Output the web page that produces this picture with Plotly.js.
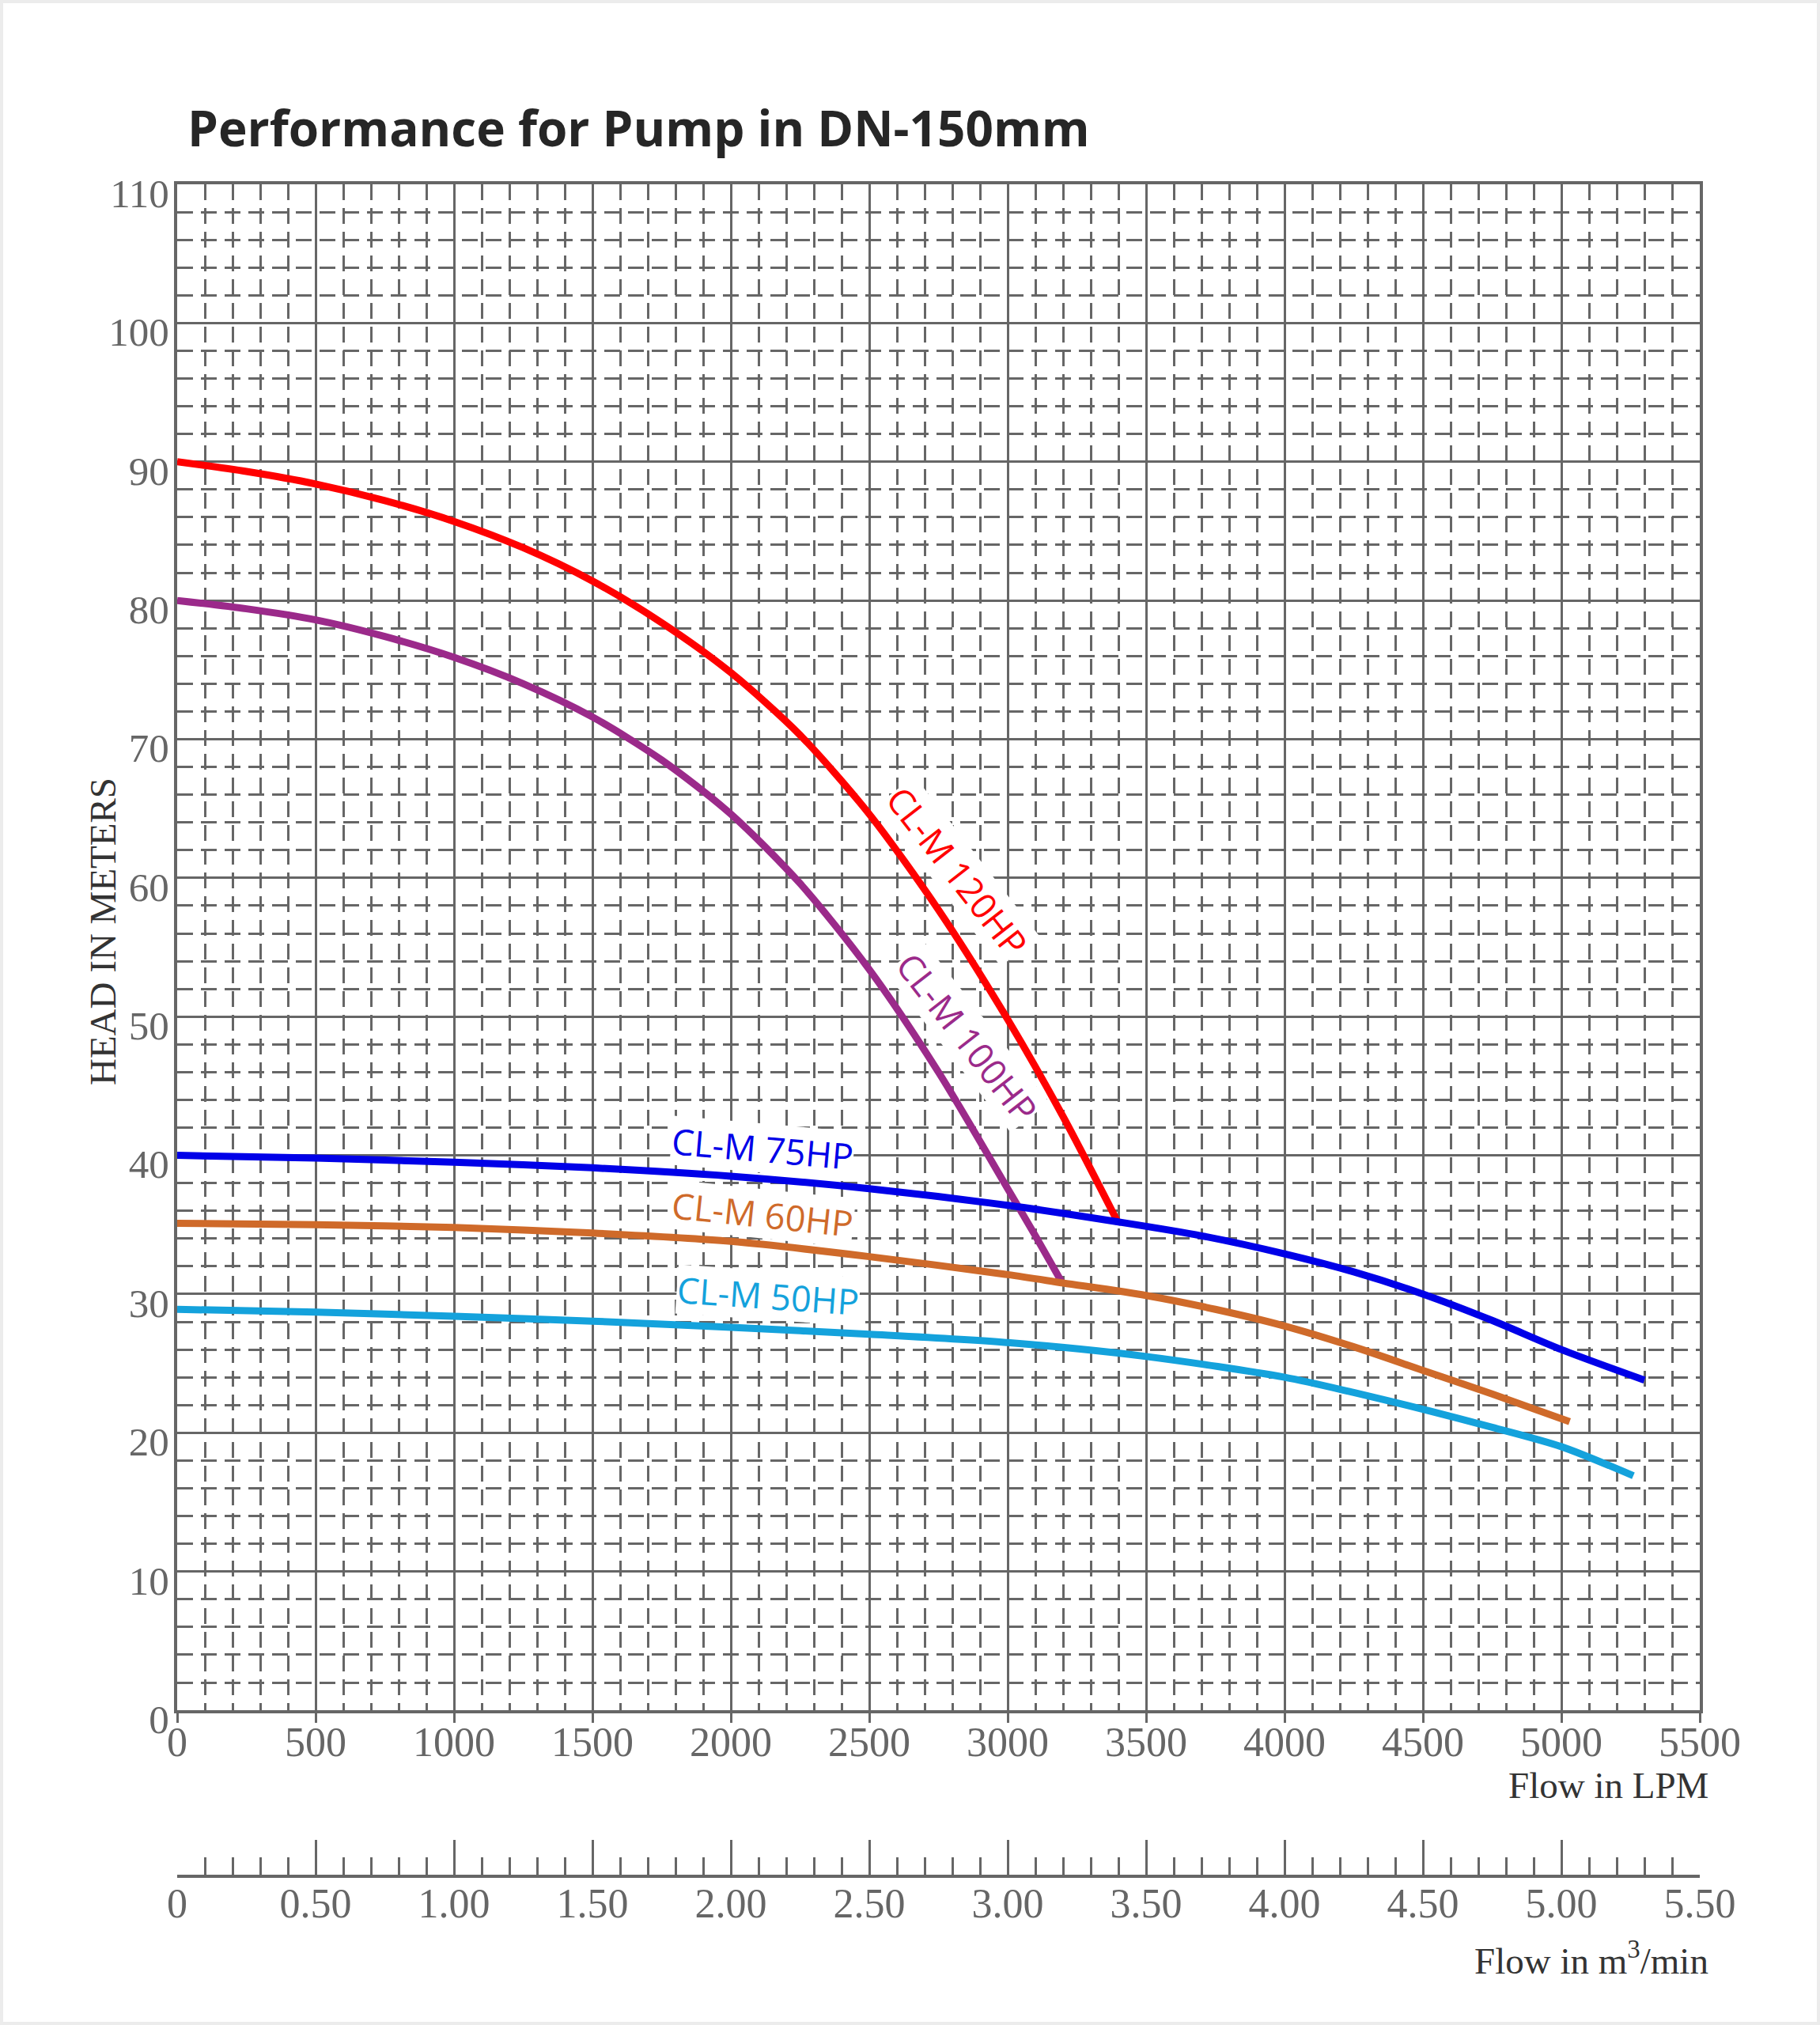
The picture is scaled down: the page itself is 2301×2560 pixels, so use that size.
<!DOCTYPE html>
<html><head><meta charset="utf-8">
<script src="https://cdn.plot.ly/plotly-3.0.1.min.js"></script>
<style>
html,body{margin:0;padding:0;background:#fff}
#wrap{position:relative;width:2301px;height:2560px}
#frame{position:absolute;left:0;top:0;width:2301px;height:2560px;box-sizing:border-box;border:4px solid #ececec;pointer-events:none}
</style>
</head><body>
<div id="wrap"><div id="chart" style="width:2301px;height:2560px"></div><div id="frame"></div></div>
<script>
// ---- data (flow in LPM, head in meters) ----
const flow120 = [0, 250, 500, 750, 1000, 1250, 1500, 1750, 2000, 2250, 2500, 2750, 3000, 3200, 3400];
const head120 = [90, 89.3, 88.4, 87.2, 85.7, 83.8, 81.4, 78.4, 74.8, 70.3, 64.6, 57.7, 49.8, 42.8, 35.1];

const flow100 = [0, 250, 500, 750, 1000, 1250, 1500, 1750, 2000, 2250, 2500, 2750, 3000, 3100, 3200];
const head100 = [80, 79.4, 78.6, 77.4, 75.9, 74.0, 71.6, 68.5, 64.6, 59.6, 53.4, 46.0, 37.6, 34.2, 30.7];

const flow75 = [0, 500, 1000, 1500, 2000, 2500, 3000, 3400, 3700, 4000, 4250, 4500, 4750, 5000, 5300];
const head75 = [40, 39.8, 39.5, 39.1, 38.5, 37.6, 36.4, 35.2, 34.2, 32.9, 31.6, 30.0, 28.1, 26.0, 23.8];

const flow60 = [0, 500, 1000, 1500, 2000, 2500, 3000, 3200, 3500, 3750, 4000, 4250, 4500, 4750, 5030];
const head60 = [35.1, 35.0, 34.8, 34.4, 33.8, 32.7, 31.4, 30.8, 29.9, 28.9, 27.7, 26.2, 24.5, 22.8, 20.8];

const flow50 = [0, 500, 1000, 1500, 2000, 2500, 3000, 3500, 4000, 4250, 4500, 4750, 5000, 5260];
const head50 = [28.9, 28.7, 28.4, 28.05, 27.6, 27.1, 26.5, 25.5, 24.0, 22.9, 21.7, 20.4, 19.0, 16.9];

const seriesNames = ['CL-M 120HP', 'CL-M 100HP', 'CL-M 75HP', 'CL-M 60HP', 'CL-M 50HP'];
const seriesColors = ['#ff0000', '#9b2a8a', '#0000e8', '#cf6a2a', '#14a2dc'];

// label anchor points (LPM, m) and angles
const labelFlow = [2820, 2855, 2114, 2114, 2134];
const labelHead = [60.5, 48.5, 40.5, 35.8, 29.9];
const labelAngle = [52, 52, 5, 6, 4];

const m3TickVals = [0, 0.5, 1, 1.5, 2, 2.5, 3, 3.5, 4, 4.5, 5, 5.5];
const m3TickText = ['0', '0.50', '1.00', '1.50', '2.00', '2.50', '3.00', '3.50', '4.00', '4.50', '5.00', '5.50'];

const titleText = 'Performance for Pump in DN-150mm';
const yTitle = 'HEAD IN METERS';
const xTitle = 'Flow in LPM';
const x2Title = 'Flow in m<sup>3</sup>/min';

// ---- build ----
const flows = [flow120, flow100, flow75, flow60, flow50];
const heads = [head120, head100, head75, head60, head50];
const traces = flows.map((f, i) => ({
  x: f, y: heads[i], type: 'scatter', mode: 'lines', name: seriesNames[i],
  line: {color: seriesColors[i], width: 9, shape: 'spline', smoothing: 0.8},
  xaxis: 'x', yaxis: 'y', hoverinfo: 'skip'
}));
// invisible helper so the m3/min axis gets drawn
traces.push({
  x: m3TickVals, y: m3TickVals.map(() => 0), type: 'scatter', mode: 'lines',
  line: {width: 0, color: 'rgba(0,0,0,0)'}, xaxis: 'x2', yaxis: 'y2', hoverinfo: 'skip', showlegend: false
});

const serif = 'Liberation Serif, Times New Roman, serif';
const grey = '#666666';

const annotations = seriesNames.map((n, i) => ({
  text: n, x: labelFlow[i], y: labelHead[i], xref: 'x', yref: 'y',
  showarrow: false, textangle: labelAngle[i], bgcolor: '#ffffff', borderpad: 0,
  font: {family: 'Open Sans, sans-serif', size: 45, color: seriesColors[i]}
}));
annotations.push(
  {text: xTitle, xref: 'paper', yref: 'paper', x: 1.0068, y: 0.0529, xanchor: 'right', yanchor: 'middle',
   showarrow: false, font: {family: serif, size: 47, color: '#333333'}},
  {text: x2Title, xref: 'paper', yref: 'paper', x: 1.0068, y: -0.0496, xanchor: 'right', yanchor: 'middle',
   showarrow: false, font: {family: serif, size: 47, color: '#333333'}},
  {text: yTitle, xref: 'paper', yref: 'paper', x: -0.0488, y: 0.5578, xanchor: 'center', yanchor: 'middle',
   textangle: -90, showarrow: false, font: {family: serif, size: 47, color: '#333333'}}
);

const layout = {
  width: 2301, height: 2560,
  paper_bgcolor: '#ffffff', plot_bgcolor: '#ffffff',
  margin: {l: 224, r: 152, t: 233, b: 190},
  showlegend: false,
  title: {text: titleText, x: 237/2301, xref: 'container', xanchor: 'left',
          y: 1 - 163/2560, yref: 'container', yanchor: 'middle',
          font: {family: 'Open Sans, sans-serif', size: 62, weight: 700, color: '#262626'}},
  xaxis: {
    domain: [0, 1], anchor: 'y', range: [0, 5500], dtick: 500, tick0: 0,
    showgrid: true, gridcolor: grey, gridwidth: 3, zeroline: false,
    showline: true, linecolor: grey, linewidth: 4, mirror: true,
    ticks: 'outside', ticklen: 12, tickwidth: 3, tickcolor: grey, ticklabelstandoff: -20,
    tickfont: {family: serif, size: 52, color: grey},
    minor: {dtick: 100, showgrid: true, gridcolor: grey, gridwidth: 3, griddash: '20px,10px', ticks: ''}
  },
  yaxis: {
    domain: [0.0973, 1], anchor: 'x', range: [0, 110], dtick: 10, tick0: 0,
    showgrid: true, gridcolor: grey, gridwidth: 3, zeroline: false,
    showline: true, linecolor: grey, linewidth: 4, mirror: true,
    ticks: '', ticklabelstandoff: -4, ticklabelshift: 11,
    tickfont: {family: serif, size: 51, color: grey},
    minor: {dtick: 2, showgrid: true, gridcolor: grey, gridwidth: 3, griddash: '20px,10px', ticks: ''}
  },
  xaxis2: {
    domain: [0, 1], anchor: 'y2', range: [0, 5.5],
    tickmode: 'array', tickvals: m3TickVals, ticktext: m3TickText,
    showgrid: false, zeroline: false, showline: true, linecolor: grey, linewidth: 4,
    ticks: 'inside', ticklen: 44, tickwidth: 3, tickcolor: grey, ticklabelstandoff: -12,
    tickfont: {family: serif, size: 52, color: grey},
    minor: {dtick: 0.1, ticks: 'inside', ticklen: 22, tickwidth: 3, tickcolor: grey, showgrid: false}
  },
  yaxis2: {domain: [0, 0.03], anchor: 'x2', range: [0, 1], visible: false, showgrid: false, zeroline: false},
  annotations: annotations
};

Plotly.newPlot('chart', traces, layout, {staticPlot: true, displayModeBar: false});
</script>
</body></html>
